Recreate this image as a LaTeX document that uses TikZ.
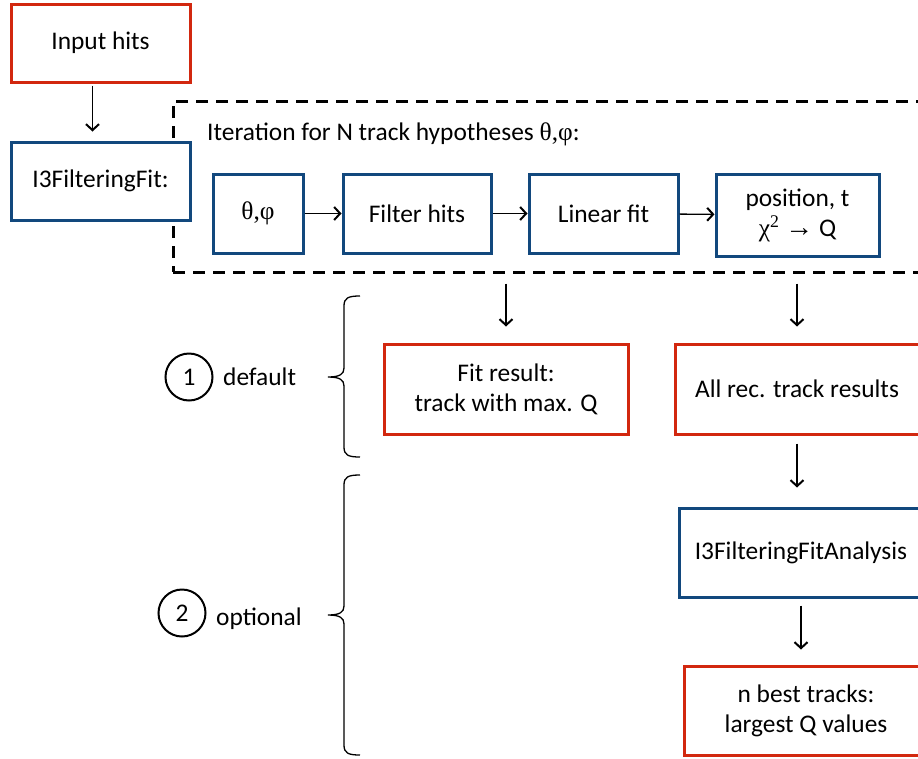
\documentclass[tikz,border=0pt]{standalone}
\usepackage{fontspec}
\setmainfont{Carlito}
\newfontfamily\grk{Liberation Serif}
\newfontfamily\arw{Liberation Sans}
\usetikzlibrary{arrows.meta}
\definecolor{boxred}{RGB}{210,40,15}
\definecolor{boxblue}{RGB}{18,72,125}

\begin{document}
\begin{tikzpicture}[x=1pt,y=-1pt,font=\fontsize{25.4}{30}\selectfont,
    redbox/.style={draw=boxred,line width=3pt,fill=white,align=center,inner sep=0pt},
    bluebox/.style={draw=boxblue,line width=3pt,fill=white,align=center,inner sep=0pt},
    arr/.style={line width=1.3pt,-{Straight Barb[length=6pt,width=13pt,line width=2pt]}},
    num/.style={draw,circle,line width=2pt,minimum size=47pt,inner sep=0pt},
    brc/.style={line width=1.3pt}]
    \useasboundingbox (0,0) rectangle (918,758);
    \clip (0,0) rectangle (918,758);

    \node (iter) [draw,line width=3pt,dash pattern=on 12pt off 8pt,minimum width=762pt,minimum height=171pt] at (554,186.5) {};
    \node (ttl) [anchor=west,inner sep=0pt] at (207,134) {Iteration for N track hypotheses {\grk θ,φ}:};

    \node (inp) [redbox,minimum width=179pt,minimum height=78pt] at (100.5,43) {Input hits};
    \node (fit) [bluebox,minimum width=179pt,minimum height=78pt] at (100.5,181) {I3FilteringFit:};

    \node (ang) [bluebox,minimum width=90pt,minimum height=79pt] at (258,213.5) {\grk θ,φ};
    \node (filt) [bluebox,minimum width=148pt,minimum height=79pt] at (417,213.5) {Filter hits};
    \node (lin) [bluebox,minimum width=149pt,minimum height=79pt] at (603.5,213.5) {Linear fit};
    \node (pos) [bluebox,minimum width=163pt,minimum height=82pt] at (797.5,215) {position, t\\{\grk χ\textsuperscript{2}} {\arw\fontsize{28}{30}\selectfont →} Q};

    \node (res) [redbox,minimum width=244pt,minimum height=90pt] at (506,389) {Fit result:\\track with max. Q};
    \node (all) [redbox,minimum width=244pt,minimum height=90pt] at (797,389) {All rec. track results};
    \node (ana) [bluebox,minimum width=244pt,minimum height=89pt] at (801,552.5) {I3FilteringFitAnalysis};
    \node (best) [redbox,minimum width=244pt,minimum height=89pt] at (806,710.5) {n best tracks:\\largest Q values};

    \draw [arr,shorten <=2pt,shorten >=9pt] ([xshift=-8pt]inp.south) -- ([xshift=-8pt]fit.north);
    \draw [arr] (ang) -- (filt);
    \draw [arr] (filt) -- (lin);
    \draw [arr] (lin) -- (pos);
    \draw [arr,shorten <=10pt,shorten >=16pt] (res.north |- iter.south) -- (res.north);
    \draw [arr,shorten <=10pt,shorten >=16pt] (all.north |- iter.south) -- (all.north);
    \draw [arr,shorten <=8pt,shorten >=19pt] (all.south) -- (all.south |- ana.north);
    \draw [arr,shorten <=7pt,shorten >=15pt] (ana.south) -- (ana.south |- best.north);

    \node (one) [num] at (189,377) {1};
    \node (dflt) [anchor=west,inner sep=0pt] at (223,377) {default};
    \node (two) [num] at (182,613) {2};
    \node (opt) [anchor=west,inner sep=0pt] at (216,619) {optional};

    \draw [brc] (360,296) .. controls (348,296) and (344,298) .. (344,306) -- (344,368)
        .. controls (344,374) and (340,377) .. (328,377)
        .. controls (340,377) and (344,380) .. (344,386) -- (344,447)
        .. controls (344,455) and (348,457) .. (360,457);
    \draw [brc] (360,475) .. controls (348,475) and (344,477) .. (344,485) -- (344,606)
        .. controls (344,612) and (340,615) .. (328,615)
        .. controls (340,615) and (344,618) .. (344,624) -- (344,745)
        .. controls (344,753) and (348,755) .. (360,755);
\end{tikzpicture}
\end{document}
